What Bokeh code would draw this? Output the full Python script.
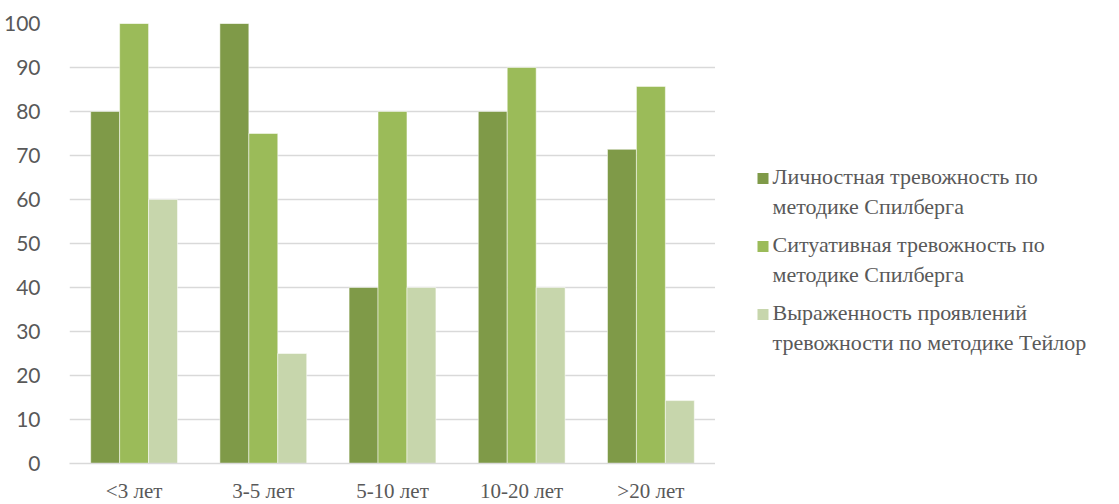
from bokeh.plotting import figure
from bokeh.models import ColumnDataSource, FactorRange, Range1d, SingleIntervalTicker
from bokeh.transform import dodge
from bokeh.layouts import row
from bokeh.core.properties import value
from bokeh.embed import file_html
from bokeh.resources import INLINE

categories = ["<3 лет", "3-5 лет", "5-10 лет", "10-20 лет", ">20 лет"]
series_names = [
    "Личностная тревожность по\nметодике Спилберга",
    "Ситуативная тревожность по\nметодике Спилберга",
    "Выраженность проявлений\nтревожности по методике Тейлор",
]
personal = [80, 100, 40, 80, 71.4]
situational = [100, 75, 80, 90, 85.7]
taylor = [60, 25, 40, 40, 14.3]
colors = ["#7F9A48", "#9BBB59", "#C7D6AC"]

src = ColumnDataSource(dict(cat=categories, s1=personal, s2=situational, s3=taylor))

p = figure(title=None, x_range=FactorRange(factors=categories, range_padding=0),
           y_range=Range1d(0, 100),
           frame_width=646, frame_height=440,
           min_border_left=61, min_border_right=0, min_border_top=23, min_border_bottom=36,
           output_backend="svg", toolbar_location=None)

bw = 0.224
for col, off, c in zip(["s1", "s2", "s3"], [-bw, 0, bw], colors):
    p.vbar(x=dodge("cat", off, range=p.x_range), top=col, width=bw, source=src,
           fill_color=c, line_color="white", line_alpha=0.5, line_width=1)

p.outline_line_color = None
p.xgrid.grid_line_color = None
p.ygrid.grid_line_color = "#D9D9D9"
p.ygrid.grid_line_width = 1.5
p.yaxis.ticker = SingleIntervalTicker(interval=10)
p.yaxis.axis_line_color = None
p.yaxis.major_tick_line_color = None
p.yaxis.minor_tick_line_color = None
p.yaxis.major_label_text_font = "Lato"
p.yaxis.major_label_text_font_size = "21px"
p.yaxis.major_label_text_color = "#595959"
p.yaxis.major_label_standoff = 23
p.xaxis.axis_line_color = "#D9D9D9"
p.xaxis.axis_line_width = 1.5
p.xaxis.major_tick_line_color = None
p.xaxis.minor_tick_line_color = None
p.xaxis.major_label_text_font = "Liberation Serif"
p.xaxis.major_label_text_font_size = "21px"
p.xaxis.major_label_text_color = "#595959"
p.xaxis.major_label_standoff = 9

# legend panel (its frame is aligned with the main plot frame)
LH = 440
lg = figure(title=None, x_range=Range1d(0, 397), y_range=Range1d(LH, 0),
            frame_width=397, frame_height=LH,
            min_border=0, output_backend="svg", toolbar_location=None)
lg.axis.visible = False
lg.grid.visible = False
lg.outline_line_color = None
ys = [155 + i * 68 for i in range(len(series_names))]
lsrc = ColumnDataSource(dict(x=[47.5] * 3, y=ys, tx=[57] * 3, ty=[y - 15 for y in ys],
                             label=series_names, color=colors))
lg.rect(x="x", y="y", width=11, height=11, source=lsrc, fill_color="color", line_color=None)
lg.text(x="tx", y="ty", text="label", source=lsrc, text_font=value("Liberation Serif"),
        text_font_size="22px", text_color="#595959", text_baseline="top",
        text_align="left", text_line_height=1.2)

layout = row(p, lg)
open("out.html", "w").write(file_html(layout, INLINE))
